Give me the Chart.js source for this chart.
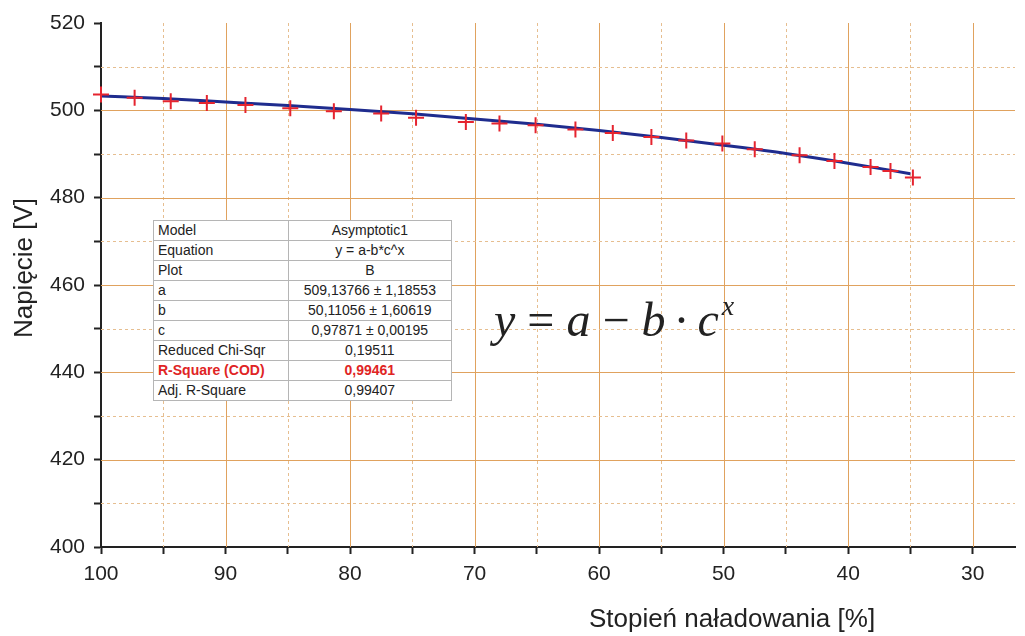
<!DOCTYPE html>
<html>
<head>
<meta charset="utf-8">
<script src="https://cdn.jsdelivr.net/npm/chart.js@4"></script>
<style>
  body { margin: 0; background: #fff; }
  #wrap { position: relative; width: 1025px; height: 636px; }
  #fitTable {
    position: absolute; left: 153px; top: 220px; width: 299px;
    border-collapse: collapse; font-family: "Liberation Sans", Arial, sans-serif;
    font-size: 14px; color: #222; background: #fff;
  }
  #fitTable td { border: 1px solid #b5b5b5; height: 19px; padding: 0 4px; line-height: 19px; white-space: nowrap; }
  #fitTable td:nth-child(2) { text-align: center; }
  #fitTable tr.red td { color: #e02424; font-weight: bold; }
  #eq {
    position: absolute; left: 494px; top: 290px;
    font-family: "Liberation Serif", "Times New Roman", serif; font-size: 48px; color: #222;
    white-space: nowrap;
  }
  #eq i { font-style: italic; }
  #eq .op { display: inline-block; margin: 0 12px; }
  #eq .dot { display: inline-block; margin: 0 8px; }
  #eq sup { font-size: 28px; vertical-align: 21px; margin-left: 3px; }
</style>
</head>
<body>
<div id="wrap">
  <canvas id="chart" width="1025" height="636"></canvas>
  <table id="fitTable"></table>
  <div id="eq"><i>y</i><span class="op">=</span><i>a</i><span class="op">−</span><i>b</i><span class="dot">·</span><i>c</i><sup><i>x</i></sup></div>
</div>
<script>
// measured points (state of charge %, voltage V)
const socValues = [100, 97.3, 94.4, 91.5, 88.4, 84.8, 81.3, 77.5, 74.7, 70.7, 68.0, 65.1,
  61.9, 58.9, 55.8, 53.0, 50.1, 47.5, 43.9, 41.1, 38.2, 36.6, 34.8];
const voltageValues = [503.6, 502.9, 502.1, 501.7, 501.2, 500.5, 499.8, 499.3, 498.3, 497.3, 497.0, 496.6,
  495.6, 494.8, 493.9, 493.1, 492.4, 491.1, 489.7, 488.4, 487.0, 486.1, 484.6];

// fitted curve
const fitSoc = [100, 95, 90, 85, 80, 75, 70, 65, 60, 55, 50, 45, 40, 35];
const fitVoltage = [503.3, 502.7, 501.9, 501.1, 500.2, 499.2, 498.0, 496.8, 495.4, 493.8, 492.0, 490.1, 487.9, 485.5];

const tableRows = [
  ['Model', 'Asymptotic1'],
  ['Equation', 'y = a-b*c^x'],
  ['Plot', 'B'],
  ['a', '509,13766 ± 1,18553'],
  ['b', '50,11056 ± 1,60619'],
  ['c', '0,97871 ± 0,00195'],
  ['Reduced Chi-Sqr', '0,19511'],
  ['R-Square (COD)', '0,99461'],
  ['Adj. R-Square', '0,99407'],
];

const xTitle = 'Stopień naładowania [%]';
const yTitle = 'Napięcie [V]';

const table = document.getElementById('fitTable');
tableRows.forEach((r, i) => {
  const tr = document.createElement('tr');
  if (i === 7) tr.className = 'red';
  r.forEach((c) => {
    const td = document.createElement('td');
    td.textContent = c;
    tr.appendChild(td);
  });
  table.appendChild(tr);
});

const FONT = '"Liberation Sans", Arial, sans-serif';

const gridPlugin = {
  id: 'orangeGrid',
  beforeDatasetsDraw(chart) {
    const { ctx, chartArea, scales } = chart;
    ctx.save();
    ctx.lineWidth = 1;
    scales.x.ticks.forEach((t) => {
      if (t.value === 100) return;
      const px = Math.round(scales.x.getPixelForValue(t.value)) + 0.5;
      const major = t.value % 10 === 0;
      ctx.strokeStyle = major ? '#e0a25e' : '#e6be90';
      ctx.setLineDash(major ? [] : [3, 3]);
      ctx.beginPath();
      ctx.moveTo(px, chartArea.top);
      ctx.lineTo(px, chartArea.bottom);
      ctx.stroke();
    });
    scales.y.ticks.forEach((t) => {
      if (t.value === 400 || t.value === 520) return;
      const py = Math.round(scales.y.getPixelForValue(t.value)) + 0.5;
      const major = t.value % 20 === 0;
      ctx.strokeStyle = major ? '#e0a25e' : '#e6be90';
      ctx.setLineDash(major ? [] : [3, 3]);
      ctx.beginPath();
      ctx.moveTo(chartArea.left, py);
      ctx.lineTo(chartArea.right, py);
      ctx.stroke();
    });
    ctx.restore();
  },
  afterDraw(chart) {
    const ctx = chart.ctx;
    ctx.save();
    ctx.fillStyle = '#222';
    ctx.font = '26px ' + FONT;
    ctx.textAlign = 'center';
    ctx.textBaseline = 'middle';
    ctx.fillText(xTitle, 732, 620);
    ctx.translate(25, 268);
    ctx.rotate(-Math.PI / 2);
    ctx.fillText(yTitle, 0, 0);
    ctx.restore();
  },
};

new Chart(document.getElementById('chart'), {
  type: 'scatter',
  data: {
    datasets: [
      {
        label: 'fit',
        data: fitSoc.map((x, i) => ({ x, y: fitVoltage[i] })),
        showLine: true,
        borderColor: '#1f2c8e',
        borderWidth: 3,
        pointRadius: 0,
        cubicInterpolationMode: 'monotone',
        order: 2,
      },
      {
        label: 'B',
        data: socValues.map((x, i) => ({ x, y: voltageValues[i] })),
        pointStyle: 'cross',
        pointRadius: 8,
        borderWidth: 2,
        borderColor: '#e5242f',
        clip: false,
        order: 1,
      },
    ],
  },
  options: {
    responsive: false,
    animation: false,
    layout: { padding: { top: 23, right: 3, left: 0, bottom: 0 } },
    plugins: { legend: { display: false }, tooltip: { enabled: false } },
    scales: {
      x: {
        type: 'linear',
        reverse: true,
        min: 26.6,
        max: 100,
        afterBuildTicks: (s) => { s.ticks = s.ticks.filter((t) => Math.abs(t.value / 5 - Math.round(t.value / 5)) < 1e-6); },
        afterFit: (s) => { s.height = 89; },
        ticks: {
          stepSize: 5,
          includeBounds: false,
          autoSkip: false,
          maxRotation: 0,
          padding: 8,
          color: '#222',
          font: { family: FONT, size: 21 },
          callback: (v) => (v % 10 === 0 ? v : ''),
        },
        grid: { drawOnChartArea: false, tickLength: 7, tickWidth: 2, tickColor: '#222' },
        border: { color: '#222', width: 2 },
      },
      y: {
        min: 400,
        max: 520,
        afterFit: (s) => { s.width = 101; },
        ticks: {
          stepSize: 10,
          autoSkip: false,
          padding: 9,
          color: '#222',
          font: { family: FONT, size: 21 },
          callback: (v) => (v % 20 === 0 ? v : ''),
        },
        grid: { drawOnChartArea: false, tickLength: 7, tickWidth: 2, tickColor: '#222' },
        border: { color: '#222', width: 2 },
      },
    },
  },
  plugins: [gridPlugin],
});
</script>
</body>
</html>
